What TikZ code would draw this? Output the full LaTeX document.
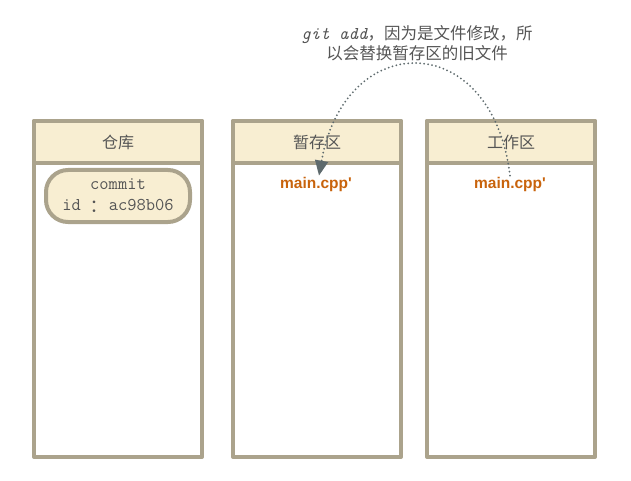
\documentclass[tikz,border=0pt]{standalone}
\usepackage{fontspec}
\usepackage{xcolor}
\usepackage{tikz}
\usetikzlibrary{arrows.meta}
\newfontfamily\cjk{Noto Sans CJK SC}
\newfontfamily\cjktc{Noto Sans CJK TC}
\newfontfamily\filefont{Liberation Sans}
\definecolor{boxline}{HTML}{ABA38C}
\definecolor{headfill}{HTML}{F8EED2}
\definecolor{headtext}{HTML}{555555}
\definecolor{fileorange}{HTML}{C8630C}
\definecolor{arrowgray}{HTML}{5E6A6D}
\tikzset{
 areaframe/.style = {draw=boxline, line width=4pt, line join=round},
 areahead/.style = {areaframe, fill=headfill, minimum width=168pt, minimum height=42pt,
   inner sep=0pt, outer sep=0pt, text=headtext, font=\cjk\fontsize{16}{18}\selectfont},
 commitpill/.style = {areaframe, fill=headfill, rounded corners=22pt, minimum width=144pt,
   minimum height=52pt, inner sep=0pt, align=center, text=headtext,
   font=\ttfamily\fontsize{18}{21}\selectfont},
 filename/.style = {text=fileorange, font=\filefont\bfseries\fontsize{15.5}{18}\selectfont, inner sep=1pt},
 addarrow/.style = {arrowgray, line width=2pt, line cap=round, dash pattern=on 0pt off 4pt,
   -{Triangle[length=15pt,width=13pt,fill=arrowgray,sep=0pt]}}
}

\begin{document}
\begin{tikzpicture}[x=1pt,y=-1pt]
\useasboundingbox (0,0) rectangle (631,481);
% the three areas
\foreach \xl/\name/\title in {34/repo/仓库, 233/stage/暂存区, 427/work/工作区} {
 \draw[areaframe] (\xl,121) rectangle ++(168,336);
 \node[areahead, anchor=north west] (\name-head) at (\xl,121) {\title};
}
\node[commitpill] (commit) at (118,196) {commit\\id\hspace{5pt}\raisebox{-3pt}{\cjktc ：}\hspace{5pt}ac98b06};
\node[filename] (stage-file) at (316,184) {main.cpp'};
\node[filename] (work-file) at (510,184) {main.cpp'};
% git add replaces the staged file
\node[text=headtext, align=center, font=\cjk\fontsize{16.5}{20}\selectfont] (note) at (417,43)
 {{\ttfamily\itshape\fontsize{18}{20}\selectfont git add}，因为是文件修改，所\\以会替换暂存区的旧文件};
\draw[addarrow] (work-file.north) .. controls (492,28) and (345,28) .. (stage-file.north west -| 319,175);
\end{tikzpicture}
\end{document}
